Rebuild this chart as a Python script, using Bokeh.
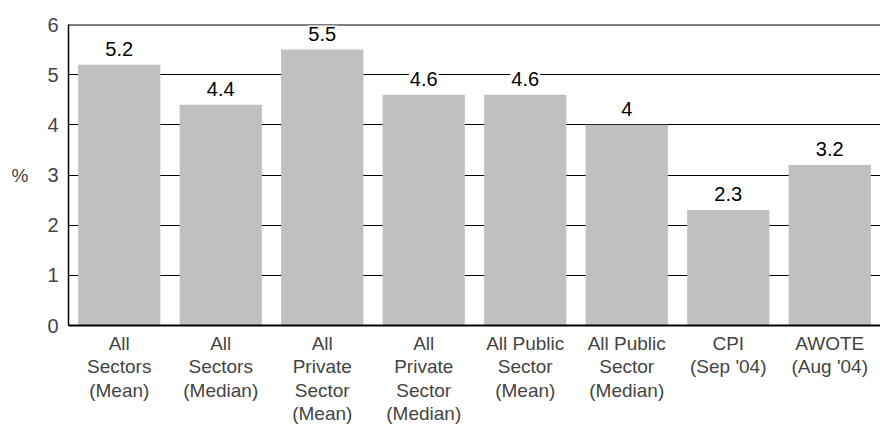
from bokeh.plotting import figure
from bokeh.models import ColumnDataSource, FixedTicker, Span
from bokeh.core.properties import value
from bokeh.embed import file_html
from bokeh.resources import INLINE

categories = ["All\nSectors\n(Mean)", "All\nSectors\n(Median)", "All\nPrivate\nSector\n(Mean)",
              "All\nPrivate\nSector\n(Median)", "All Public\nSector\n(Mean)", "All Public\nSector\n(Median)",
              "CPI\n(Sep '04)", "AWOTE\n(Aug '04)"]
values = [5.2, 4.4, 5.5, 4.6, 4.6, 4.0, 2.3, 3.2]
value_labels = ["5.2", "4.4", "5.5", "4.6", "4.6", "4", "2.3", "3.2"]
y_ticks = [0, 1, 2, 3, 4, 5, 6]

FONT = "Liberation Sans"

src = ColumnDataSource(dict(cat=categories, val=values, lab=value_labels))

p = figure(x_range=categories, y_range=(0, 6), output_backend="svg", toolbar_location=None,
           frame_width=812, frame_height=301, min_border_left=68, min_border_top=24,
           min_border_right=0, min_border_bottom=0)
p.outline_line_color = None
p.background_fill_color = "white"

p.vbar(x="cat", top="val", width=0.81, source=src, fill_color="#c0c0c0", line_color=None)

p.text(x="cat", y="val", text="lab", source=src, text_align="center", text_baseline="bottom",
       y_offset=-8, text_font=value(FONT), text_font_size="20px", text_color="black",
       background_fill_color="white", padding=1)

p.xgrid.grid_line_color = None
p.ygrid.grid_line_color = "black"
p.ygrid.grid_line_width = 1
p.ygrid.ticker = FixedTicker(ticks=y_ticks)

top = Span(location=6, dimension="width", line_color="black", line_width=2, level="underlay")
p.add_layout(top)

p.yaxis.ticker = FixedTicker(ticks=y_ticks)
p.yaxis.axis_label = "%"
p.yaxis.axis_label_orientation = "horizontal"
p.yaxis.axis_label_text_font_style = "normal"
p.yaxis.axis_label_text_font = FONT
p.yaxis.axis_label_text_font_size = "19px"
p.yaxis.axis_label_standoff = 16
p.yaxis.major_label_text_font = FONT
p.yaxis.major_label_text_font_size = "20px"
p.yaxis.major_label_standoff = 4
p.yaxis.major_tick_line_color = None
p.yaxis.minor_tick_line_color = None
p.yaxis.axis_line_color = "black"
p.yaxis.axis_line_width = 1.5

p.xaxis.major_label_text_font = FONT
p.xaxis.major_label_text_font_size = "19px"
p.xaxis.major_label_text_line_height = 1.12
p.xaxis.major_label_standoff = 1
p.xaxis.major_tick_line_color = None
p.xaxis.minor_tick_line_color = "black"
p.xaxis.minor_tick_in = 4
p.xaxis.minor_tick_out = 0
p.xaxis.axis_line_color = "black"
p.xaxis.axis_line_width = 2

open("out.html", "w").write(file_html(p, INLINE))
